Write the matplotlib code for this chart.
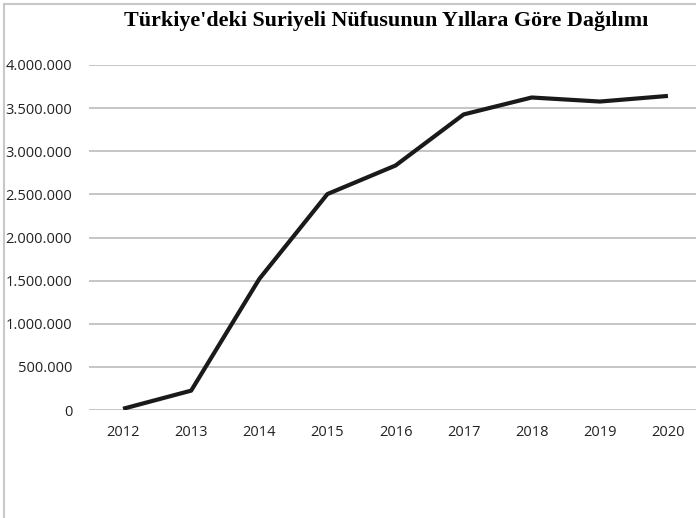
import matplotlib
matplotlib.use("Agg")
import matplotlib.pyplot as plt
from matplotlib.lines import Line2D
from matplotlib.ticker import FuncFormatter

# data
years = [2012, 2013, 2014, 2015, 2016, 2017, 2018, 2019, 2020]
nufus = [14237, 224655, 1519286, 2503549, 2834441, 3426786, 3623192, 3576370, 3641370]
yticks = [0, 500000, 1000000, 1500000, 2000000, 2500000, 3000000, 3500000, 4000000]

W, H = 696, 518
fig = plt.figure(figsize=(W / 100, H / 100), dpi=100)
ax = fig.add_axes([89 / W, (H - 410) / H, (702 - 89) / W, 345 / H])

x = list(range(len(years)))
ax.plot(x, nufus, color="#1a1a1a", lw=3.0, solid_capstyle="butt", zorder=3)

ax.set_xlim(-0.5, len(years) - 0.5)
ax.set_ylim(0, 4000000)
ax.set_xticks(x)
ax.set_xticklabels([str(y) for y in years])
ax.set_yticks(yticks)
ax.yaxis.set_major_formatter(FuncFormatter(lambda v, p: f"{int(v):,}".replace(",", ".")))

ax.grid(axis="y", color="#c0c0c0", lw=1.3)
ax.set_axisbelow(True)
for s in ax.spines.values():
    s.set_visible(False)
ax.tick_params(length=0, labelsize=10.5, colors="#222222")
ax.tick_params(axis="y", pad=12)
ax.tick_params(axis="x", pad=11)
for lab in ax.get_xticklabels() + ax.get_yticklabels():
    lab.set_family("Open Sans")

fig.text(386 / W, 1 - 21 / H, "Türkiye'deki Suriyeli Nüfusunun Yıllara Göre Dağılımı",
         ha="center", va="center", fontsize=15.8, fontweight="bold",
         family="Liberation Serif")

# outer frame (left and top edges visible)
fig.add_artist(Line2D([3.5 / W, 3.5 / W], [0, 1 - 4 / H], color="#c8c8c8", lw=1.5,
                      transform=fig.transFigure))
fig.add_artist(Line2D([3.5 / W, 1], [1 - 4 / H, 1 - 4 / H], color="#c8c8c8", lw=1.5,
                      transform=fig.transFigure))

fig.savefig("out.png", dpi=100)
